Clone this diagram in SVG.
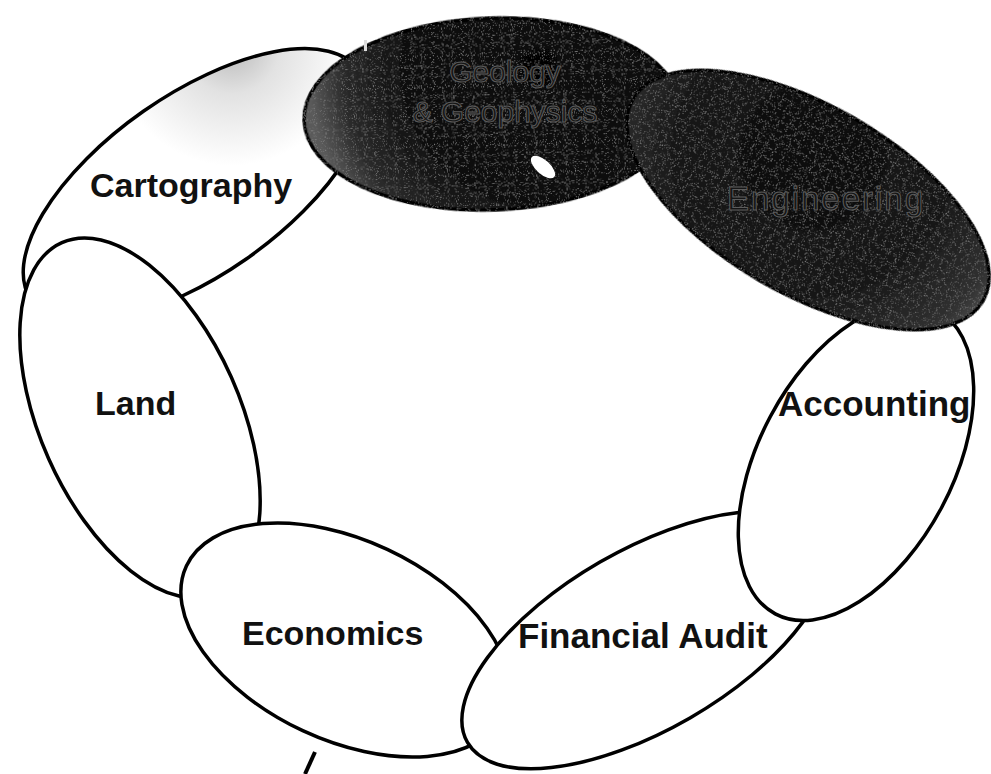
<svg xmlns="http://www.w3.org/2000/svg" width="991" height="774" viewBox="0 0 991 774">
  <style>
    .outline { stroke: #000; stroke-width: 3.5; }
    .light { fill: #fff; }
    .lbl { font-family: "Liberation Sans", Arial, sans-serif; font-size: 34px; font-weight: bold; fill: #111; }
    .dlbl { font-family: "Liberation Sans", Arial, sans-serif; font-size: 30px; fill: #151515; stroke: #5c5c5c; stroke-width: 1; }
  </style>
  <defs>
    <radialGradient id="cartoShade" gradientUnits="userSpaceOnUse" cx="305" cy="92" r="120">
      <stop offset="0" stop-color="#b8b8b8"/>
      <stop offset="0.4" stop-color="#e2e2e2"/>
      <stop offset="1" stop-color="#ffffff"/>
    </radialGradient>
    <radialGradient id="darkGeo" gradientUnits="userSpaceOnUse" cx="540" cy="70" r="230">
      <stop offset="0" stop-color="#050505"/>
      <stop offset="0.6" stop-color="#111"/>
      <stop offset="0.85" stop-color="#2a2a2a"/>
      <stop offset="1" stop-color="#5a5a5a"/>
    </radialGradient>
    <radialGradient id="darkEng" gradientUnits="userSpaceOnUse" cx="790" cy="160" r="230">
      <stop offset="0" stop-color="#0a0a0a"/>
      <stop offset="0.6" stop-color="#181818"/>
      <stop offset="0.9" stop-color="#303030"/>
      <stop offset="1" stop-color="#4a4a4a"/>
    </radialGradient>
    <filter id="grain" x="-5%" y="-5%" width="110%" height="110%">
      <feTurbulence type="fractalNoise" baseFrequency="0.9" numOctaves="1" seed="3" result="n"/>
      <feColorMatrix in="n" type="matrix" values="0 0 0 0 0.7  0 0 0 0 0.7  0 0 0 0 0.7  0 0 0 1.5 -0.9" result="spots"/>
      <feComposite in="spots" in2="SourceGraphic" operator="in" result="sp"/>
      <feMerge><feMergeNode in="SourceGraphic"/><feMergeNode in="sp"/></feMerge>
    </filter>
  </defs>
  <rect width="991" height="774" fill="#fff"/>

  <g id="cartography">
    <ellipse cx="195" cy="185" rx="200" ry="90" transform="rotate(-35 195 185)" fill="url(#cartoShade)" class="outline"/>
    <text class="lbl" x="90" y="197">Cartography</text>
  </g>

  <g id="geology">
    <ellipse cx="492" cy="114" rx="188" ry="96" transform="rotate(-2 492 114)" fill="url(#darkGeo)" class="outline" filter="url(#grain)"/>
    <text class="dlbl" text-anchor="middle"><tspan x="505" y="82">Geology</tspan><tspan x="505" y="122">&amp; Geophysics</tspan></text>
    <ellipse cx="543" cy="167" rx="7" ry="15" transform="rotate(-48 543 167)" fill="#fff"/>
    <rect x="364" y="40" width="3" height="11" fill="#ddd"/>
  </g>

  <g id="land">
    <ellipse cx="140" cy="418" rx="192" ry="100" transform="rotate(66 140 418)" class="outline light"/>
    <text class="lbl" x="95" y="415">Land</text>
  </g>

  <g id="economics">
    <ellipse cx="345" cy="640" rx="175" ry="100" transform="rotate(25 345 640)" class="outline light"/>
    <text class="lbl" x="242" y="645">Economics</text>
  </g>

  <g id="financial-audit">
    <ellipse cx="645" cy="640" rx="205" ry="90" transform="rotate(-30 645 640)" class="outline light"/>
    <text class="lbl" x="518" y="648" style="font-size:35px">Financial Audit</text>
  </g>

  <g id="accounting">
    <ellipse cx="856" cy="462" rx="172" ry="97" transform="rotate(-62 856 462)" class="outline light"/>
    <text class="lbl" x="778" y="416" style="font-size:35px">Accounting</text>
  </g>

  <g id="engineering">
    <ellipse cx="808" cy="200" rx="202" ry="94" transform="rotate(30 808 200)" fill="url(#darkEng)" class="outline" filter="url(#grain)"/>
    <text class="dlbl" x="826" y="210" text-anchor="middle" style="font-size:33px;letter-spacing:2px">Engineering</text>
  </g>

  <g id="connectors">
    <line x1="315" y1="752" x2="305" y2="774" stroke="#000" stroke-width="4"/>
  </g>
</svg>
